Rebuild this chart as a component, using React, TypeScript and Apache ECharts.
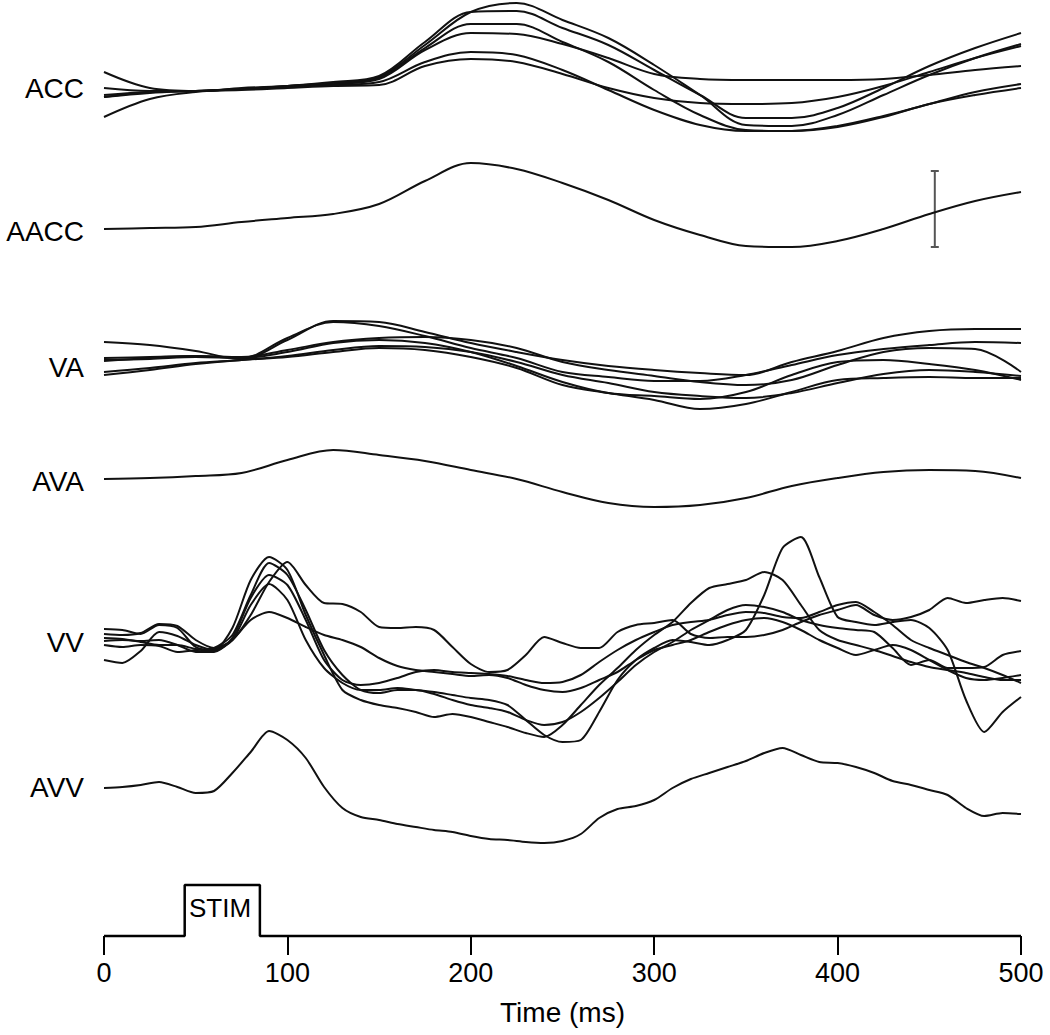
import React, { useEffect, useRef } from "react";
import * as echarts from "echarts";

// Sample times (ms)
const T25 = [0, 25, 50, 75, 100, 125, 150, 175, 200, 225, 250, 275, 300, 325, 350, 375, 400, 425, 450, 475, 500];
const T10 = [0, 10, 20, 30, 40, 50, 60, 70, 80, 90, 100, 110, 120, 130, 140, 150, 160, 170, 180, 190, 200, 210, 220, 230, 240, 250, 260, 270, 280, 290, 300, 310, 320, 330, 340, 350, 360, 370, 380, 390, 400, 410, 420, 430, 440, 450, 460, 470, 480, 490, 500];

// Stacked trace display, vertical position in display units (downward)
const ACC_1 = [97, 93, 91, 89, 86, 83, 77, 45, 12, 3, 20, 38, 65, 95, 125, 126, 115, 95, 75, 58, 44];
const ACC_2 = [72, 88, 91, 89, 86, 82, 76, 42, 12, 11, 28, 45, 70, 95, 118, 118, 108, 88, 66, 48, 33];
const ACC_3 = [88, 91, 91, 88, 86, 83, 78, 48, 24, 24, 42, 62, 90, 115, 130, 131, 126, 116, 104, 92, 84];
const ACC_4 = [97, 92, 91, 89, 87, 84, 79, 50, 33, 34, 44, 58, 74, 79, 80, 80, 80, 79, 75, 70, 66];
const ACC_5 = [117, 99, 92, 89, 87, 85, 82, 62, 52, 55, 70, 90, 110, 125, 131, 131, 127, 117, 104, 95, 88];
const ACC_6 = [95, 92, 91, 90, 88, 86, 85, 66, 59, 62, 74, 88, 98, 103, 104, 103, 97, 86, 72, 58, 46];

const AACC = [229, 228, 227, 222, 218, 214, 204, 181, 163, 169, 183, 200, 220, 235, 246, 247, 241, 229, 214, 201, 192];

const VA_1 = [342, 345, 351, 359, 340, 321, 322, 332, 343, 352, 360, 366, 370, 373, 375, 362, 351, 338, 331, 329, 329];
const VA_2 = [358, 357, 356, 358, 338, 322, 326, 336, 348, 358, 372, 377, 381, 381, 375, 365, 355, 349, 345, 342, 343];
const VA_3 = [361, 358, 356, 357, 350, 342, 338, 337, 340, 348, 362, 370, 376, 382, 385, 380, 365, 352, 348, 349, 372];
const VA_4 = [372, 368, 363, 360, 356, 350, 346, 347, 352, 362, 375, 383, 392, 396, 398, 393, 383, 374, 370, 372, 376];
const VA_5 = [375, 370, 364, 360, 357, 352, 348, 350, 357, 368, 385, 393, 400, 409, 404, 392, 380, 378, 377, 378, 378];
const VA_6 = [360, 359, 357, 358, 352, 343, 340, 343, 352, 366, 382, 393, 396, 399, 392, 375, 362, 360, 364, 370, 380];

const AVA = [479, 478, 476, 473, 460, 450, 455, 461, 470, 479, 492, 503, 507, 505, 498, 486, 478, 472, 470, 471, 478];

const VV_1 = [634, 635, 633, 624, 626, 640, 648, 640, 615, 582, 562, 585, 603, 604, 612, 627, 628, 627, 630, 647, 664, 672, 670, 655, 637, 643, 648, 648, 632, 625, 623, 620, 634, 638, 637, 637, 635, 630, 622, 615, 610, 605, 615, 620, 617, 610, 598, 603, 600, 598, 601];
const VV_2 = [629, 630, 634, 625, 628, 647, 650, 640, 605, 584, 600, 640, 668, 683, 690, 690, 688, 690, 692, 695, 698, 700, 705, 720, 735, 742, 740, 712, 680, 660, 648, 640, 642, 645, 640, 630, 595, 548, 537, 577, 617, 622, 625, 622, 620, 628, 650, 700, 732, 712, 697];
const VV_3 = [660, 663, 651, 632, 636, 645, 650, 628, 580, 557, 570, 615, 655, 690, 700, 705, 708, 712, 717, 714, 717, 722, 727, 733, 737, 725, 705, 685, 668, 650, 635, 622, 603, 588, 584, 580, 572, 580, 605, 630, 640, 645, 650, 656, 662, 667, 670, 673, 677, 680, 680];
const VV_4 = [645, 647, 645, 646, 652, 650, 648, 635, 595, 563, 575, 610, 650, 675, 690, 693, 690, 690, 694, 700, 705, 708, 712, 720, 725, 722, 712, 698, 682, 665, 652, 642, 630, 620, 610, 605, 607, 612, 620, 625, 628, 630, 632, 648, 665, 660, 668, 668, 667, 655, 651];
const VV_5 = [638, 639, 642, 645, 645, 649, 651, 638, 598, 575, 585, 620, 660, 680, 685, 683, 678, 672, 670, 672, 673, 674, 676, 680, 683, 682, 675, 662, 650, 640, 632, 625, 622, 620, 615, 612, 613, 617, 618, 612, 605, 602, 612, 625, 640, 648, 655, 662, 668, 675, 683];
const VV_6 = [641, 640, 641, 640, 645, 652, 652, 640, 620, 612, 618, 627, 635, 640, 647, 658, 666, 670, 672, 674, 676, 675, 678, 685, 690, 692, 688, 680, 672, 660, 650, 645, 640, 632, 625, 620, 618, 622, 630, 640, 648, 655, 650, 645, 650, 660, 670, 678, 680, 678, 675];

const AVV = [788, 787, 785, 782, 787, 793, 791, 773, 752, 731, 740, 758, 787, 808, 817, 820, 824, 827, 830, 832, 836, 839, 840, 842, 843, 841, 834, 818, 809, 806, 800, 788, 779, 773, 767, 761, 753, 748, 755, 762, 763, 767, 773, 781, 785, 790, 795, 808, 816, 813, 814];

// Stimulus trace (also serves as time axis baseline)
const STIM_T = [0, 44, 44, 85, 85, 500];
const STIM_V = [936, 936, 885, 885, 936, 936];

// Calibration bar: [time, top, bottom]
const SCALE_BAR = [[453, 171, 247]];

const TRACE_LABELS = ["ACC", "AACC", "VA", "AVA", "VV", "AVV"];
const LABEL_LEVELS = [89, 232, 368, 482, 643, 788];
const X_TICKS = [0, 100, 200, 300, 400, 500];

const FONT = "'Liberation Sans', Arial, Helvetica, sans-serif";

const pairs = (t: number[], v: number[]) => t.map((x, i) => [x, v[i]]);

export default function App() {
  const ref = useRef<HTMLDivElement>(null);
  useEffect(() => {
    if (!ref.current) return;
    const chart = echarts.init(ref.current, undefined, { renderer: "svg" });

    const traceStyle = { color: "#111", width: 2 };
    const mk = (name: string, t: number[], v: number[], smooth: number | boolean = 0.35) => ({
      name,
      type: "line",
      data: pairs(t, v),
      symbol: "none",
      showSymbol: false,
      smooth,
      clip: false,
      silent: true,
      lineStyle: traceStyle,
    });

    const series: any[] = [
      mk("ACC1", T25, ACC_1), mk("ACC2", T25, ACC_2), mk("ACC3", T25, ACC_3),
      mk("ACC4", T25, ACC_4), mk("ACC5", T25, ACC_5), mk("ACC6", T25, ACC_6),
      mk("AACC", T25, AACC),
      mk("VA1", T25, VA_1), mk("VA2", T25, VA_2), mk("VA3", T25, VA_3),
      mk("VA4", T25, VA_4), mk("VA5", T25, VA_5), mk("VA6", T25, VA_6),
      mk("AVA", T25, AVA),
      mk("VV1", T10, VV_1, 0.25), mk("VV2", T10, VV_2, 0.25), mk("VV3", T10, VV_3, 0.25),
      mk("VV4", T10, VV_4, 0.25), mk("VV5", T10, VV_5, 0.25), mk("VV6", T10, VV_6, 0.25),
      mk("AVV", T10, AVV, 0.25),
      {
        name: "STIM",
        type: "line",
        data: pairs(STIM_T, STIM_V),
        symbol: "none",
        clip: false,
        silent: true,
        lineStyle: { color: "#000", width: 2.5 },
      },
      {
        name: "scale",
        type: "custom",
        clip: false,
        silent: true,
        data: SCALE_BAR,
        encode: { x: 0, y: [1, 2] },
        renderItem: (params: any, api: any) => {
          const t = api.value(0);
          const a = api.coord([t, api.value(1)]);
          const b = api.coord([t, api.value(2)]);
          const st = { stroke: "#555", lineWidth: 2 };
          return {
            type: "group",
            children: [
              { type: "line", shape: { x1: a[0], y1: a[1], x2: b[0], y2: b[1] }, style: st },
              { type: "line", shape: { x1: a[0] - 4, y1: a[1], x2: a[0] + 4, y2: a[1] }, style: st },
              { type: "line", shape: { x1: b[0] - 4, y1: b[1], x2: b[0] + 4, y2: b[1] }, style: st },
            ],
          };
        },
      },
    ];

    const graphic: any[] = TRACE_LABELS.map((txt, i) => ({
      type: "text",
      right: 1050 - 84,
      top: LABEL_LEVELS[i] - 15,
      style: { text: txt, fontSize: 28, fontFamily: FONT, fill: "#000" },
    }));
    graphic.push({
      type: "text",
      left: 189,
      top: 895,
      style: { text: "STIM", fontSize: 26, fontFamily: FONT, fill: "#000" },
    });

    chart.setOption({
      animation: false,
      backgroundColor: "#fff",
      grid: { left: 104, right: 29, top: 0, bottom: 99 },
      xAxis: {
        type: "value",
        position: "bottom",
        min: X_TICKS[0],
        max: X_TICKS[X_TICKS.length - 1],
        interval: 100,
        axisLine: { show: true, onZero: false, lineStyle: { color: "rgba(0,0,0,0)", width: 0 } },
        axisTick: { show: true, inside: false, length: 19, lineStyle: { color: "#000", width: 2 } },
        axisLabel: { fontSize: 27, color: "#000", margin: 23, fontFamily: FONT },
        splitLine: { show: false },
        name: "Time (ms)",
        nameLocation: "middle",
        nameGap: 62,
        nameTextStyle: { fontSize: 28, color: "#000", fontFamily: FONT },
      },
      yAxis: {
        type: "value",
        min: 0,
        max: 936,
        inverse: true,
        show: false,
        splitLine: { show: false },
      },
      graphic,
      series,
    });
    return () => chart.dispose();
  }, []);
  return (
    <div
      ref={ref}
      style={{ position: "absolute", left: 0, top: 0, width: 1050, height: 1035, background: "#fff" }}
    />
  );
}
